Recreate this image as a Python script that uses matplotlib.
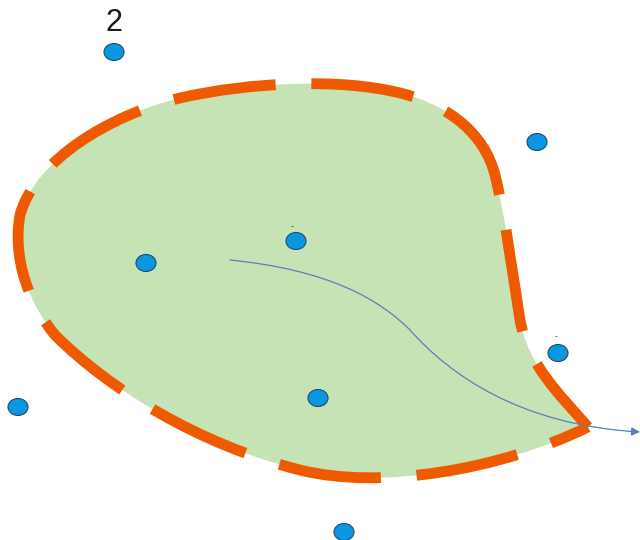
import matplotlib
matplotlib.use('Agg')
import matplotlib.pyplot as plt
from matplotlib.path import Path
from matplotlib.patches import PathPatch, Ellipse, FancyArrowPatch

# point markers (pixel coords of the drawing, y down)
pt_x = [114, 537, 296, 146, 558, 18, 318, 344]
pt_y = [52, 142, 241, 263, 353, 407, 398, 532]

# small text labels
lbl_text = ['2', '-', '-']
lbl_x = [114, 292, 556]
lbl_y = [23, 227, 337]
lbl_size = [22, 6, 6]

# blob outline (cubic bezier: start then triples of ctrl, ctrl, end)
blob_start = (588, 427)
blob_curves = [
    ((560, 395), (528, 365), (520, 320)),
    ((512, 270), (505, 215), (495, 175)),
    ((485, 135), (450, 105), (400, 93)),
    ((340, 78), (250, 82), (180, 98)),
    ((110, 115), (35, 160), (20, 215)),
    ((12, 260), (30, 305), (55, 335)),
    ((110, 390), (200, 445), (300, 470)),
    ((380, 490), (500, 470), (588, 427)),
]

# thin arrow curve
arrow_start = (230, 260)
arrow_curves = [
    ((330, 270), (380, 300), (410, 330)),
    ((450, 375), (520, 425), (640, 432)),
]


def bezier_path(start, curves, close=False):
    verts = [start]
    codes = [Path.MOVETO]
    for c1, c2, end in curves:
        verts += [c1, c2, end]
        codes += [Path.CURVE4] * 3
    if close:
        verts.append(start)
        codes.append(Path.CLOSEPOLY)
    return Path(verts, codes)


fig = plt.figure(figsize=(6.4, 5.4), dpi=100)
ax = fig.add_axes([0, 0, 1, 1])
ax.set_xlim(0, 640)
ax.set_ylim(540, 0)
ax.axis('off')

blob = bezier_path(blob_start, blob_curves, close=True)
ax.add_patch(PathPatch(blob, facecolor='#c5e3b5', edgecolor='none', zorder=1))
ax.add_patch(PathPatch(blob, facecolor='none', edgecolor='#ef5a00', lw=7.8,
                       linestyle=(2, (9.5, 3.3)), capstyle='butt', zorder=2))

curve = bezier_path(arrow_start, arrow_curves)
ax.add_patch(FancyArrowPatch(path=curve, arrowstyle='-|>,head_length=5,head_width=2.5',
                             color='#5b7fb8', lw=0.9, zorder=3))

for x, y in zip(pt_x, pt_y):
    ax.add_patch(Ellipse((x, y), 20, 17, facecolor='#0a96e0', edgecolor='#24496e',
                         lw=0.8, zorder=4))

for t, x, y, s in zip(lbl_text, lbl_x, lbl_y, lbl_size):
    ax.text(x, y, t, ha='center', va='center', fontsize=s,
            family='Liberation Sans', color='#1a1a1a', zorder=5)

fig.savefig('out.png', dpi=100)
